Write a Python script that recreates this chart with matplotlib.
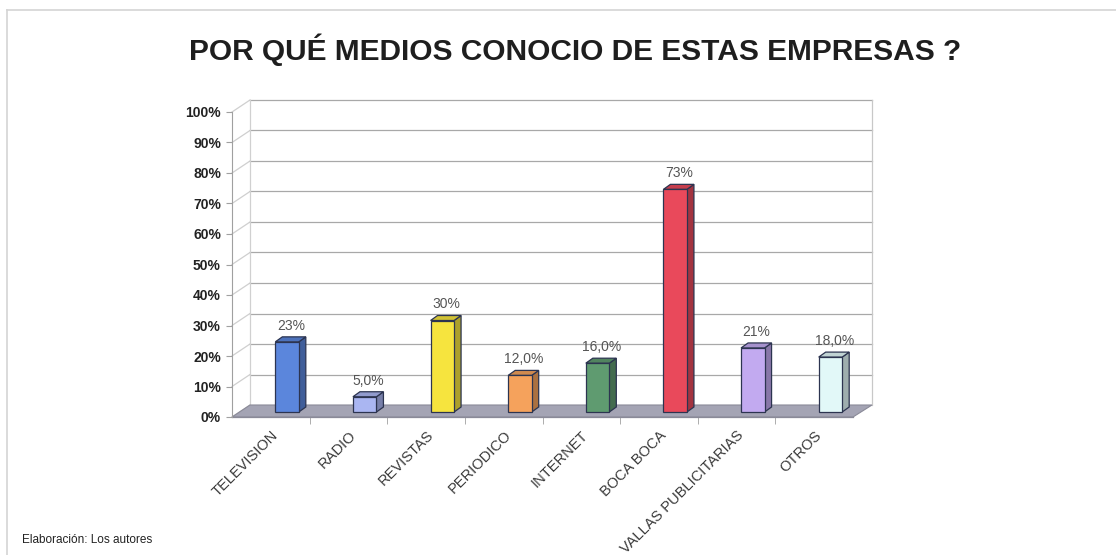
import numpy as np
import matplotlib.pyplot as plt
from matplotlib.patches import Polygon

plt.rcParams['font.family'] = ['Liberation Sans', 'DejaVu Sans']

categorias = ['TELEVISION', 'RADIO', 'REVISTAS', 'PERIODICO', 'INTERNET',
              'BOCA BOCA', 'VALLAS PUBLICITARIAS', 'OTROS']
valores = [23, 5.0, 30, 12.0, 16.0, 73, 21, 18.0]
etiquetas = ['23%', '5,0%', '30%', '12,0%', '16,0%', '73%', '21%', '18,0%']
colores = ['#5b86dc', '#aab6f2', '#f6e43e', '#f5a25c', '#5f9b70',
           '#e9495b', '#c2aaf0', '#e2f8f8']
ticks_y = np.arange(0, 101, 10)

W, H = 1116, 555
fig = plt.figure(figsize=(W / 100, H / 100), dpi=100)

# front plane of the chart, in pixels
x0, x1, y0, y1 = 232, 853, 417, 112
ax = fig.add_axes([x0 / W, 1 - y0 / H, (x1 - x0) / W, (y0 - y1) / H])
n = len(categorias)
ax.set_xlim(-0.5, n - 0.5)
ax.set_ylim(0, 100)

# pixel -> data unit conversion
px = n / (x1 - x0)
py = 100 / (y0 - y1)

def shade(c, f):
    c = np.array(plt.matplotlib.colors.to_rgb(c))
    return tuple(np.clip(c * f, 0, 1))

# depth of the plot box
dx, dy = 18 * px, 12 * py
dx_r = 19 * px

# floor
floor = Polygon([(-0.5, 0), (n - 0.5, 0), (n - 0.5 + dx_r, dy), (-0.5 + dx, dy)],
                closed=True, facecolor='#a4a4b4', edgecolor='#8a8a98', lw=0.8,
                clip_on=False, zorder=1)
ax.add_patch(floor)

# walls: side wall diagonals and back wall gridlines
for v in ticks_y:
    ax.plot([-0.5, -0.5 + dx], [v, v + dy], color='#cfcfcf',
            lw=0.9, clip_on=False, zorder=0)
    if v > 0:
        ax.plot([-0.5 + dx, n - 0.5 + dx_r], [v + dy, v + dy], color='#a8a8a8',
                lw=0.9, clip_on=False, zorder=0)
ax.plot([-0.5 + dx, -0.5 + dx], [dy, 100 + dy], color='#d0d0d0', lw=0.9,
        clip_on=False, zorder=0)
ax.plot([n - 0.5 + dx_r, n - 0.5 + dx_r], [dy, 100 + dy], color='#c8c8c8', lw=0.9,
        clip_on=False, zorder=0)

# 3d columns
bx = 4.5 * px       # front face offset from the category centre
bw = 23.5 * px      # front face width
bdx, bdy = 7 * px, 5 * py   # column depth
base = 5 * py
for i, (v, c, lab) in enumerate(zip(valores, colores, etiquetas)):
    left = i + bx
    top = base + v
    ax.bar(left, v, width=bw, bottom=base, align='edge', color=c,
           edgecolor='#2c3450', lw=0.9, zorder=4)
    side = Polygon([(left + bw, base), (left + bw + bdx, base + bdy),
                    (left + bw + bdx, top + bdy), (left + bw, top)],
                   closed=True, facecolor=shade(c, 0.7), edgecolor='#2c3450',
                   lw=0.9, zorder=3)
    cap = Polygon([(left, top), (left + bw, top), (left + bw + bdx, top + bdy),
                   (left + bdx, top + bdy)],
                  closed=True, facecolor=shade(c, 0.85), edgecolor='#2c3450',
                  lw=0.9, zorder=3)
    ax.add_patch(side)
    ax.add_patch(cap)
    ax.text(i + 20 * px, top + 16 * py, lab, ha='center', va='center',
            fontsize=10, color='#555555', zorder=5)

for s in ['top', 'right', 'bottom']:
    ax.spines[s].set_visible(False)
ax.spines['left'].set_color('#a0a0a0')
ax.plot([-0.5, n - 0.5], [0, 0], color='#8a8a98', lw=0.9, clip_on=False, zorder=2)

ax.set_yticks(ticks_y)
ax.set_yticklabels([f'{t}%' for t in ticks_y], fontsize=10, fontweight='bold',
                   color='#222222')
ax.tick_params(axis='y', length=4, color='#a0a0a0', pad=4)

ax.set_xticks(np.arange(n))
ax.set_xticklabels(categorias, rotation=45, ha='right', va='top',
                   rotation_mode='anchor', fontsize=10.5, color='#3a3a3a')
ax.set_xticks(np.arange(n - 1) + 0.5, minor=True)
ax.tick_params(axis='x', which='major', length=0, pad=8)
ax.tick_params(axis='x', which='minor', length=5, color='#a0a0a0')

fig.text(575 / W, 1 - 50 / H, 'POR QUÉ MEDIOS CONOCIO DE ESTAS EMPRESAS ?',
         ha='center', va='center', fontsize=21.5, fontweight='bold', color='#1e1e1e')
fig.text(22 / W, 1 - 540 / H, 'Elaboración: Los autores', ha='left',
         va='center', fontsize=8.5, color='#222222')

# outer frame
fig.add_artist(plt.Line2D([7 / W, 7 / W], [0, 1 - 10 / H], color='#d4d4d4', lw=1.2))
fig.add_artist(plt.Line2D([7 / W, 1], [1 - 10 / H, 1 - 10 / H], color='#d4d4d4', lw=1.2))

fig.savefig('out.png', dpi=100)
